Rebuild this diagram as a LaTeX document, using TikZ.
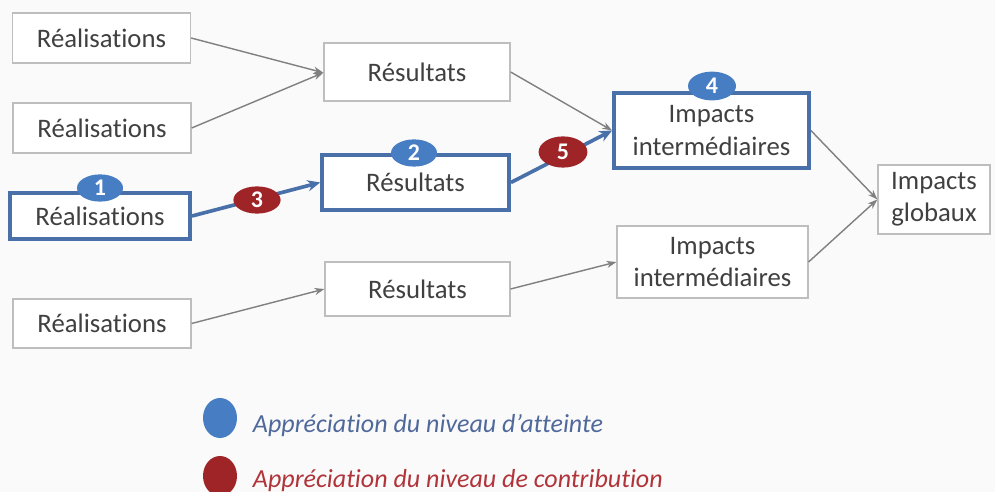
\documentclass[tikz,border=0pt]{standalone}
\usepackage{fontspec}
\setmainfont{Carlito}[Ligatures={NoCommon}]
\usetikzlibrary{arrows.meta,shapes.geometric}
\definecolor{boxgray}{RGB}{190,190,190}
\definecolor{txtgray}{RGB}{64,64,64}
\definecolor{arrgray}{RGB}{128,128,128}
\definecolor{hlblue}{RGB}{74,112,170}
\definecolor{badgeblue}{RGB}{70,125,195}
\definecolor{badgered}{RGB}{158,36,40}
\definecolor{legblue}{RGB}{80,105,155}
\definecolor{legred}{RGB}{176,52,58}
\definecolor{bgcol}{RGB}{250,250,250}
\tikzset{
  plainbox/.style={draw=boxgray, line width=0.9pt, fill=white, text=txtgray,
    font=\fontsize{19}{23}\selectfont, align=center, inner sep=0pt},
  hlbox/.style={draw=hlblue, line width=2.8pt, fill=white, text=txtgray,
    font=\fontsize{19}{23}\selectfont, align=center, inner sep=0pt},
  thinarrow/.style={draw=arrgray, line width=1pt, -{Stealth[length=7pt,width=5pt]}},
  thickarrow/.style={draw=hlblue, line width=2.6pt, -{Stealth[length=9pt,width=8pt]}},
  bluebadge/.style={ellipse, fill=badgeblue, text=white, inner sep=0pt,
    font=\fontsize{17}{17}\selectfont\bfseries},
  redbadge/.style={ellipse, fill=badgered, text=white, inner sep=0pt,
    font=\fontsize{17}{17}\selectfont\bfseries},
  legtext/.style={anchor=base west, font=\fontsize{18.5}{22}\selectfont\itshape}
}
\begin{document}
\begin{tikzpicture}[x=0.025cm, y=-0.025cm]
\fill[bgcol] (0,0) rectangle (995,492);
\useasboundingbox (0,0) rectangle (995,492);

% boxes
\node[plainbox, minimum width=4.45cm, minimum height=1.25cm] (r1) at (101.5,38) {Réalisations};
\node[plainbox, minimum width=4.45cm, minimum height=1.25cm] (r2) at (102,128) {Réalisations};
\node[hlbox, minimum width=4.5cm, minimum height=1.15cm] (r3) at (100,216) {Réalisations};
\node[plainbox, minimum width=4.45cm, minimum height=1.22cm] (r4) at (102,323.5) {Réalisations};

\node[plainbox, minimum width=4.65cm, minimum height=1.45cm] (s1) at (417,72) {Résultats};
\node[hlbox, minimum width=4.67cm, minimum height=1.37cm] (s2) at (415.5,182.5) {Résultats};
\node[plainbox, minimum width=4.62cm, minimum height=1.35cm] (s3) at (417.5,289) {Résultats};

\node[hlbox, minimum width=4.87cm, minimum height=1.87cm] (i1) at (711.5,130.5) {Impacts\\intermédiaires};
\node[plainbox, minimum width=4.77cm, minimum height=1.8cm] (i2) at (712.5,262) {Impacts\\intermédiaires};

\node[plainbox, minimum width=2.8cm, minimum height=1.72cm] (g) at (934,199.5) {Impacts\\globaux};

% connectors
\coordinate (j1) at ([yshift=-0.5pt]s1.west);
\draw[thinarrow] (r1.east) -- (j1);
\draw[thinarrow] (r2.east) -- (j1);
\draw[thinarrow] (r4.east) -- (s3.west);
\draw[thinarrow] (s1.east) -- (i1.west);
\draw[thinarrow] (s3.east) -- (i2.west);
\draw[thinarrow] (i1.east) -- (g.west);
\draw[thinarrow] (i2.east) -- (g.west);
\draw[thickarrow] (r3.east) -- (s2.west);
\draw[thickarrow] (s2.east) -- (i1.west);

% badges
\node[bluebadge, minimum width=1.15cm, minimum height=0.68cm] (b1) at (100,188) {1};
\node[bluebadge, minimum width=1.15cm, minimum height=0.68cm] (b2) at (414,153) {2};
\node[bluebadge, minimum width=1.2cm, minimum height=0.72cm] (b4) at (712,86) {4};
\node[redbadge, minimum width=1.18cm, minimum height=0.68cm] (b3) at (257,200) {3};
\node[redbadge, minimum width=1.22cm, minimum height=0.78cm] (b5) at (563,152) {5};

% legend
\node[ellipse, fill=badgeblue, minimum width=0.85cm, minimum height=1.0cm, inner sep=0pt] (lb) at (220,418) {};
\node[ellipse, fill=badgered, minimum width=0.85cm, minimum height=1.0cm, inner sep=0pt] (lr) at (220,476) {};
\node[legtext, text=legblue] (lbt) at (248,432) {Appréciation du niveau d’atteinte};
\node[legtext, text=legred] (lrt) at (248,487) {Appréciation du niveau de contribution};
\end{tikzpicture}
\end{document}
